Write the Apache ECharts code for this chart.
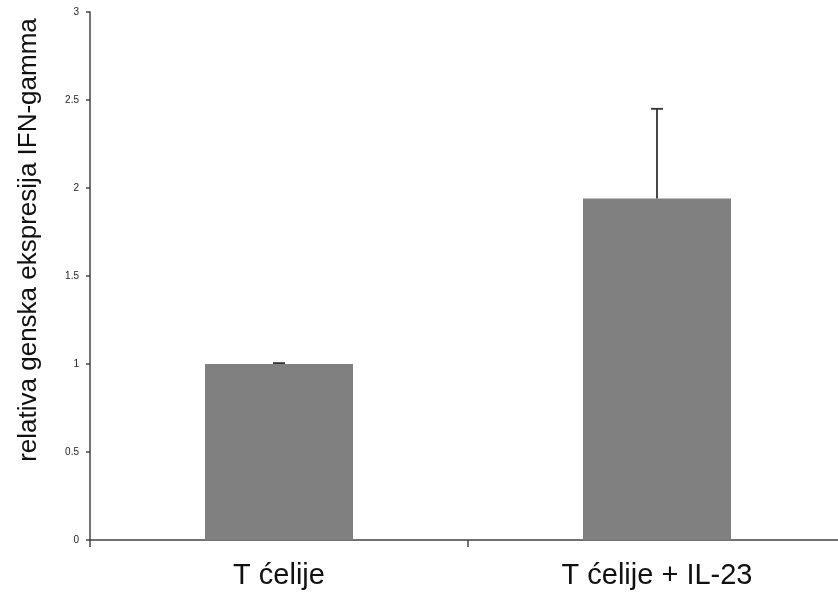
<!DOCTYPE html>
<html>
<head>
<meta charset="utf-8">
<script src="https://cdn.jsdelivr.net/npm/echarts@6/dist/echarts.min.js"></script>
<style>
  html, body { margin: 0; padding: 0; background: #fff; overflow: hidden; }
  /* the x axis runs a little past the right edge of the window */
  #chart { width: 846px; height: 594px; }
</style>
</head>
<body>
<div id="chart"></div>
<script>
// Relative IFN-gamma gene expression, mean with upper error
const categories = ['T ćelije', 'T ćelije + IL-23'];
const means = [1.0, 1.94];
const errors = [0.005, 0.51];
const yTicks = [0, 0.5, 1, 1.5, 2, 2.5, 3];

const FONT = '"Liberation Sans", Arial, Helvetica, sans-serif';
const chart = echarts.init(document.getElementById('chart'), null, { renderer: 'canvas' });

const errorData = categories.map((c, i) => [i, means[i], means[i] + errors[i]]);

chart.setOption({
  animation: false,
  backgroundColor: '#ffffff',
  grid: { left: 90, right: 0, top: 12, bottom: 54, containLabel: false },
  xAxis: {
    type: 'category',
    data: categories,
    axisLine: { lineStyle: { color: '#444', width: 1.5 } },
    axisTick: { show: true, length: 7, lineStyle: { color: '#444', width: 1.5 } },
    axisLabel: { fontFamily: FONT, fontSize: 29, color: '#111', margin: 21 },
    splitLine: { show: false }
  },
  yAxis: {
    type: 'value',
    min: yTicks[0],
    max: yTicks[yTicks.length - 1],
    interval: 0.5,
    axisLine: { show: true, lineStyle: { color: '#444', width: 1.5 } },
    axisTick: { show: true, length: 4, lineStyle: { color: '#444', width: 1.5 } },
    axisLabel: { fontFamily: FONT, fontSize: 10, color: '#222', margin: 11 },
    splitLine: { show: false }
  },
  graphic: [{
    type: 'text',
    x: 29,
    y: 240,
    rotation: Math.PI / 2,
    style: {
      text: 'relativa genska ekspresija IFN-gamma',
      font: '26px ' + FONT,
      fill: '#111',
      align: 'center',
      verticalAlign: 'middle'
    }
  }],
  series: [
    {
      type: 'bar',
      data: means,
      barWidth: 148,
      itemStyle: { color: '#808080' }
    },
    {
      type: 'custom',
      data: errorData,
      z: 5,
      renderItem: function (params, api) {
        const base = api.coord([api.value(0), api.value(1)]);
        const top = api.coord([api.value(0), api.value(2)]);
        const half = 6;
        const style = { stroke: '#333', lineWidth: 1.8 };
        return {
          type: 'group',
          children: [
            { type: 'line', shape: { x1: base[0], y1: base[1], x2: top[0], y2: top[1] }, style: style },
            { type: 'line', shape: { x1: top[0] - half, y1: top[1], x2: top[0] + half, y2: top[1] }, style: style }
          ]
        };
      }
    }
  ]
});
</script>
</body>
</html>
